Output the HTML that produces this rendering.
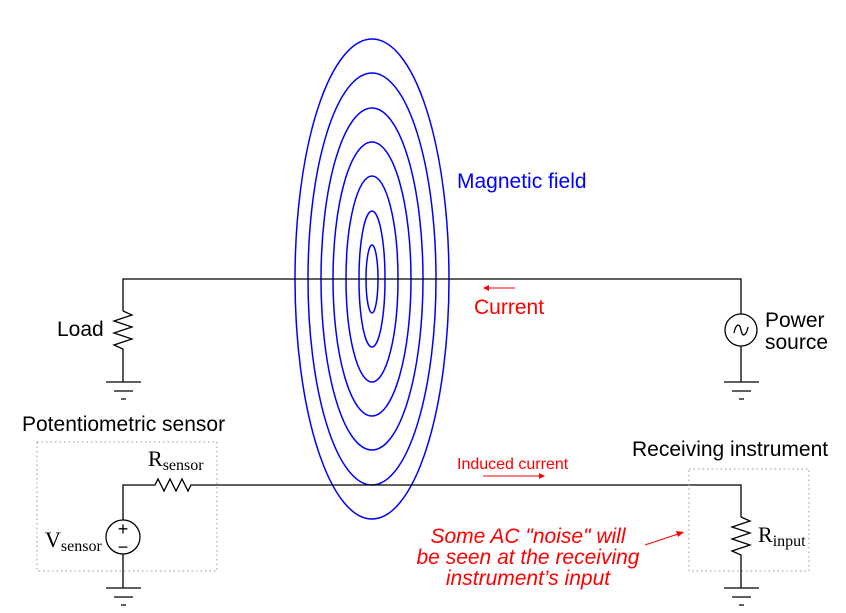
<!DOCTYPE html>
<html><head><meta charset="utf-8"><style>
html,body{margin:0;padding:0;background:#fff;}
svg{display:block;}
.s{font-family:"Liberation Sans",sans-serif;}
.r{font-family:"Liberation Serif",serif;}
</style></head><body>
<svg width="846" height="613" viewBox="0 0 846 613">
<g id="field" fill="none" stroke="#0000ff" stroke-width="1.5"></g>
<g stroke="#000" stroke-width="1.3" fill="none">
<path d="M123,311 V279 H741 V314"/>
<path d="M123,311 l9,4 -18,6 18,6 -18,6 18,6 -18,6 9,4 V382"/>
<path d="M106,382h35M114,391h19M121,399h5"/>
<circle cx="741" cy="330" r="16"/>
<path d="M734,333 c2,-10 6,-10 7,-3 s5,7 7,-3"/>
<path d="M741,346V382M724,382h35M732,391h19M739,399h5"/>
<path d="M123,520 V485 H155 l3,-6 6,12 6,-12 6,12 6,-12 6,12 3,-6 H741 V517"/>
<circle cx="123" cy="537" r="17"/>
<path d="M123,554V588M106,588h35M114,597h19M121,605h5"/>
<path d="M741,517 l9,4 -18,6 18,6 -18,6 18,6 -18,6 9,4 V588M724,588h35M732,597h19M739,605h5"/>
</g>
<text x="123" y="535" text-anchor="middle" class="s" font-size="18">+</text>
<text x="123" y="553" text-anchor="middle" class="s" font-size="18">−</text>
<rect x="37" y="442" width="180" height="129" fill="none" stroke="#999" stroke-dasharray="1.5,3"/>
<rect x="689" y="469" width="120" height="102" fill="none" stroke="#999" stroke-dasharray="1.5,3"/>
<g class="s" font-size="21">
<text x="457" y="188" fill="#0000ff">Magnetic field</text>
<text x="474" y="314" fill="#ff0000">Current</text>
<text x="57" y="336">Load</text>
<text x="765" y="327">Power</text>
<text x="765" y="349">source</text>
<text x="22" y="431">Potentiometric sensor</text>
<text x="632" y="456">Receiving instrument</text>
<text x="457" y="469" font-size="16" fill="#ff0000">Induced current</text>
<g font-style="italic" fill="#ff0000" text-anchor="middle">
<text x="528" y="543">Some AC "noise" will</text>
<text x="528" y="564">be seen at the receiving</text>
<text x="528" y="585">instrument’s input</text>
</g>
</g>
<g class="r" font-size="22">
<text x="148" y="466">R<tspan font-size="16" dy="4">sensor</tspan></text>
<text x="45" y="547">V<tspan font-size="16" dy="4">sensor</tspan></text>
<text x="758" y="542">R<tspan font-size="16" dy="4">input</tspan></text>
</g>
<g stroke="#ff0000" fill="#ff0000" stroke-width="1">
<path d="M484,288H515"/><path d="M483,288l6,-3v6z" stroke="none"/>
<path d="M483,476H543"/><path d="M545,476l-6,-3v6z" stroke="none"/>
<path d="M645,545L678,534"/><path d="M684,532l-8,-1 2,6z" stroke="none"/>
</g>
</svg>
<script>
const ringRx=[77,64,51,39,26,13,6];
const ringRy=[240,206,171,137,103,68,34];
const g=document.getElementById('field');
ringRx.forEach((rx,i)=>{
 const e=document.createElementNS('http://www.w3.org/2000/svg','ellipse');
 e.setAttribute('cx',372);e.setAttribute('cy',279);
 e.setAttribute('rx',rx);e.setAttribute('ry',ringRy[i]);
 
 
 g.appendChild(e);
});
</script>
</body></html>
